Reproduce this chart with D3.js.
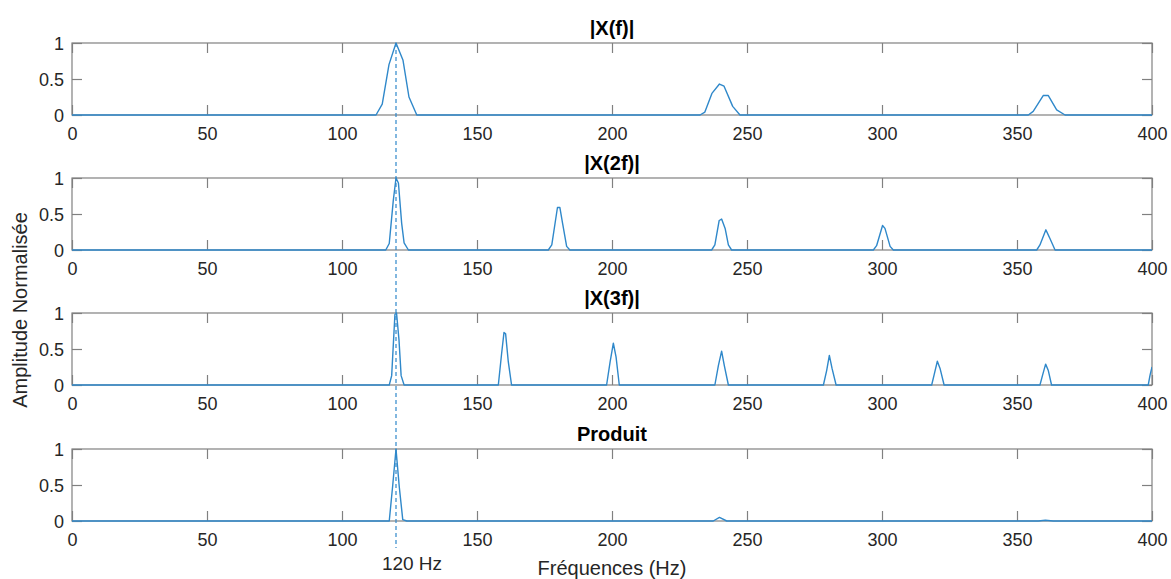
<!DOCTYPE html>
<html>
<head>
<meta charset="utf-8">
<script src="https://cdn.jsdelivr.net/npm/d3@7"></script>
<style>
  body { margin: 0; background: #fff; }
  text { font-family: "Liberation Sans", Arial, Helvetica, sans-serif; }
</style>
</head>
<body>
<svg id="chart" width="1171" height="579"></svg>
<script>
// ---- Data ----
const panelTitles = ["|X(f)|", "|X(2f)|", "|X(3f)|", "Produit"];
const xTicks = [0, 50, 100, 150, 200, 250, 300, 350, 400];
const yTicks = [0, 0.5, 1];
const markerFreq = 120;
const markerLabel = "120 Hz";
const xLabel = "Fréquences (Hz)";
const yLabel = "Amplitude Normalisée";

// Each series: [frequency (Hz), normalised amplitude]
const seriesXf = [
  [0, 0], [112.6, 0], [114.9, 0.15], [117.4, 0.70], [120, 1.0], [122.6, 0.76], [124.8, 0.25], [127.7, 0],
  [232.6, 0], [234.4, 0.04], [237.0, 0.30], [239.8, 0.43], [241.5, 0.40], [244.7, 0.12], [247.4, 0],
  [354.2, 0], [356.0, 0.05], [359.7, 0.27], [361.6, 0.27], [364.7, 0.07], [367.8, 0], [400, 0]
];
const seriesX2f = [
  [0, 0], [116.2, 0], [117.5, 0.09], [119, 0.69], [120, 1.0], [120.9, 0.93], [122.1, 0.37], [123, 0.1], [124.6, 0],
  [176.4, 0], [177.7, 0.07], [179.8, 0.59], [180.7, 0.59], [181.7, 0.37], [183.2, 0.05], [184.4, 0],
  [236.9, 0], [238.1, 0.07], [239.7, 0.41], [240.6, 0.43], [241.9, 0.30], [243.1, 0.07], [244.3, 0],
  [296.8, 0], [298, 0.06], [300.2, 0.34], [301.1, 0.30], [303, 0.05], [304.2, 0],
  [357.3, 0], [358.5, 0.07], [360.7, 0.28], [362.2, 0.16], [364.1, 0], [400, 0]
];
const seriesX3f = [
  [0, 0], [117.5, 0], [118.4, 0.13], [119.6, 0.98], [120.2, 1.0], [121.1, 0.63], [121.9, 0.13], [123, 0],
  [157.9, 0], [159.1, 0.43], [160, 0.73], [160.6, 0.71], [161.6, 0.32], [162.8, 0],
  [198, 0], [199.3, 0.32], [200.5, 0.58], [201.5, 0.39], [202.7, 0],
  [238.1, 0], [239.4, 0.27], [240.6, 0.47], [241.6, 0.27], [243.1, 0],
  [278.3, 0], [279.5, 0.20], [280.5, 0.41], [281.5, 0.23], [283, 0],
  [318.4, 0], [319.3, 0.14], [320.5, 0.33], [321.5, 0.23], [323, 0],
  [358.5, 0], [359.5, 0.14], [360.6, 0.29], [361.6, 0.20], [362.8, 0],
  [398.6, 0], [399.3, 0.14], [400, 0.25]
];
const seriesProduit = [
  [0, 0], [117.5, 0], [118.8, 0.5], [120, 1.0], [121.2, 0.48], [122.5, 0.02], [124, 0],
  [237.5, 0], [239.8, 0.05], [242.5, 0],
  [357.9, 0], [360.5, 0.01], [363.4, 0], [400, 0]
];
const allSeries = [seriesXf, seriesX2f, seriesX3f, seriesProduit];

// ---- Layout ----
const svg = d3.select("#chart");
const left = 72, right = 1152;
const panelTops = [43, 178, 313, 449];
const panelH = 72;
const axisGrey = "#808080";
const textCol = "#262626";
const lineBlue = "#2f88ca";

const x = d3.scaleLinear().domain([0, 400]).range([left, right]);

svg.append("defs").append("clipPath").attr("id", "clipAll")
  .append("rect").attr("x", left).attr("y", 0).attr("width", right - left).attr("height", 579);

panelTitles.forEach((title, i) => {
  const top = panelTops[i];
  const y = d3.scaleLinear().domain([0, 1]).range([top + panelH, top]);
  const g = svg.append("g");

  // box
  g.append("rect").attr("x", left).attr("y", top).attr("width", right - left).attr("height", panelH)
    .attr("fill", "none").attr("stroke", axisGrey).attr("stroke-width", 1.2);

  // bottom axis
  const xa = g.append("g").attr("transform", `translate(0,${top + panelH})`)
    .call(d3.axisBottom(x).tickValues(xTicks).tickSize(-10).tickPadding(12).tickFormat(d3.format("d")));
  // top axis ticks
  const xt = g.append("g").attr("transform", `translate(0,${top})`)
    .call(d3.axisTop(x).tickValues(xTicks).tickSize(-10).tickFormat(""));
  // left axis
  const ya = g.append("g").attr("transform", `translate(${left},0)`)
    .call(d3.axisLeft(y).tickValues(yTicks).tickSize(-10).tickPadding(8).tickFormat(d => d === 0.5 ? "0.5" : d3.format("d")(d)));
  // right axis ticks
  const yr = g.append("g").attr("transform", `translate(${right},0)`)
    .call(d3.axisRight(y).tickValues(yTicks).tickSize(-10).tickFormat(""));

  [xa, xt, ya, yr].forEach(a => {
    a.select(".domain").remove();
    a.selectAll(".tick line").attr("stroke", axisGrey).attr("stroke-width", 1.2);
    a.selectAll(".tick text").attr("fill", textCol).style("font-size", "18px")
      .style("font-family", '"Liberation Sans", Arial, sans-serif');
  });
  ya.selectAll(".tick text").attr("dy", "0.34em");

  // title
  g.append("text").attr("x", (left + right) / 2).attr("y", top - 8)
    .attr("text-anchor", "middle").attr("font-weight", "bold").attr("fill", "#000")
    .style("font-size", "20px").text(title);

  // series line
  const line = d3.line().x(d => x(d[0])).y(d => y(d[1]));
  g.append("path").datum(allSeries[i]).attr("d", line)
    .attr("fill", "none").attr("stroke", lineBlue).attr("stroke-width", 1.4)
    .attr("stroke-linejoin", "round").attr("clip-path", "url(#clipAll)");
});

// dashed marker line
svg.append("line").attr("x1", x(markerFreq)).attr("x2", x(markerFreq))
  .attr("y1", panelTops[0]).attr("y2", 548)
  .attr("stroke", lineBlue).attr("stroke-width", 1.2).attr("stroke-dasharray", "4,3");

svg.append("text").attr("x", x(markerFreq) + 16).attr("y", 570).attr("text-anchor", "middle")
  .attr("fill", textCol).style("font-size", "19px").text(markerLabel);

// axis labels
svg.append("text").attr("x", (left + right) / 2).attr("y", 575).attr("text-anchor", "middle")
  .attr("fill", textCol).style("font-size", "20px").text(xLabel);

svg.append("text").attr("transform", "translate(27,310) rotate(-90)").attr("text-anchor", "middle")
  .attr("fill", textCol).style("font-size", "20px").text(yLabel);
</script>
</body>
</html>
